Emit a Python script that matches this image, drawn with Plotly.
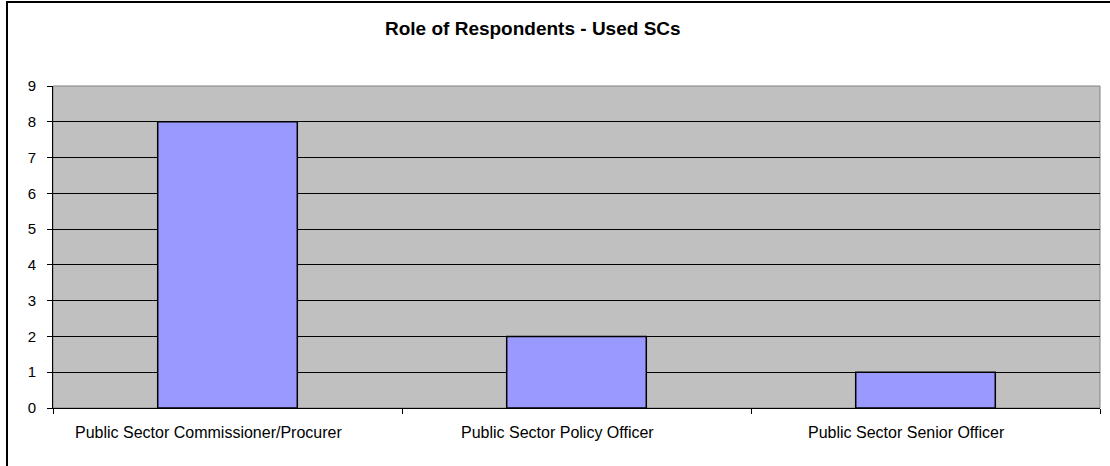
import plotly.graph_objects as go

categories = ["Public Sector Commissioner/Procurer", "Public Sector Policy Officer", "Public Sector Senior Officer"]
values = [8, 2, 1]
y_ticks = [0, 1, 2, 3, 4, 5, 6, 7, 8, 9]

W, H = 1110, 466
ml, mr, mt, mb = 53, 10, 86, 58
pw = W - ml - mr
ph = H - mt - mb
FONT = "Liberation Sans, Arial, sans-serif"

def px(x):
    return (x - ml) / pw

def py(y):
    return (H - mb - y) / ph

fig = go.Figure()
fig.add_trace(go.Bar(
    x=categories, y=values, width=0.4,
    marker=dict(color="#9999FF", line=dict(color="black", width=1.5)),
))

annotations = [
    dict(text="<b>Role of Respondents - Used SCs</b>", xref="paper", yref="paper",
         x=px(533), y=py(28), xanchor="center", yanchor="middle", showarrow=False,
         font=dict(size=19, family=FONT, color="black")),
]
for c in categories:
    annotations.append(dict(text=c, x=c, xref="x", y=0, yref="paper",
                            xanchor="center", yanchor="middle", xshift=-19, yshift=-24,
                            showarrow=False, font=dict(size=16, family=FONT, color="black")))

fig.update_layout(
    width=W, height=H,
    margin=dict(l=ml, r=mr, t=mt, b=mb),
    paper_bgcolor="white",
    plot_bgcolor="#C0C0C0",
    showlegend=False,
    font=dict(family=FONT, size=16, color="black"),
    shapes=[
        dict(type="rect", xref="paper", yref="paper", x0=0, x1=1, y0=0, y1=1,
             line=dict(color="#808080", width=1), layer="below"),
        dict(type="rect", xref="paper", yref="paper",
             x0=px(7), x1=px(1120), y0=py(475), y1=py(2),
             line=dict(color="black", width=2), fillcolor="rgba(0,0,0,0)"),
    ],
    annotations=annotations,
)

fig.update_xaxes(
    type="category", showgrid=False, showline=True, linecolor="black", linewidth=1,
    ticks="outside", ticklen=5, tickcolor="black", tickson="boundaries",
    showticklabels=False,
)
fig.update_yaxes(
    range=[0, 9], tickvals=y_ticks, showgrid=True, gridcolor="black", gridwidth=1,
    showline=True, linecolor="black", linewidth=1, zeroline=False,
    ticks="outside", ticklen=5, tickcolor="black", tickfont=dict(size=15),
    ticklabelstandoff=8,
)

fig.write_html("out.html")
